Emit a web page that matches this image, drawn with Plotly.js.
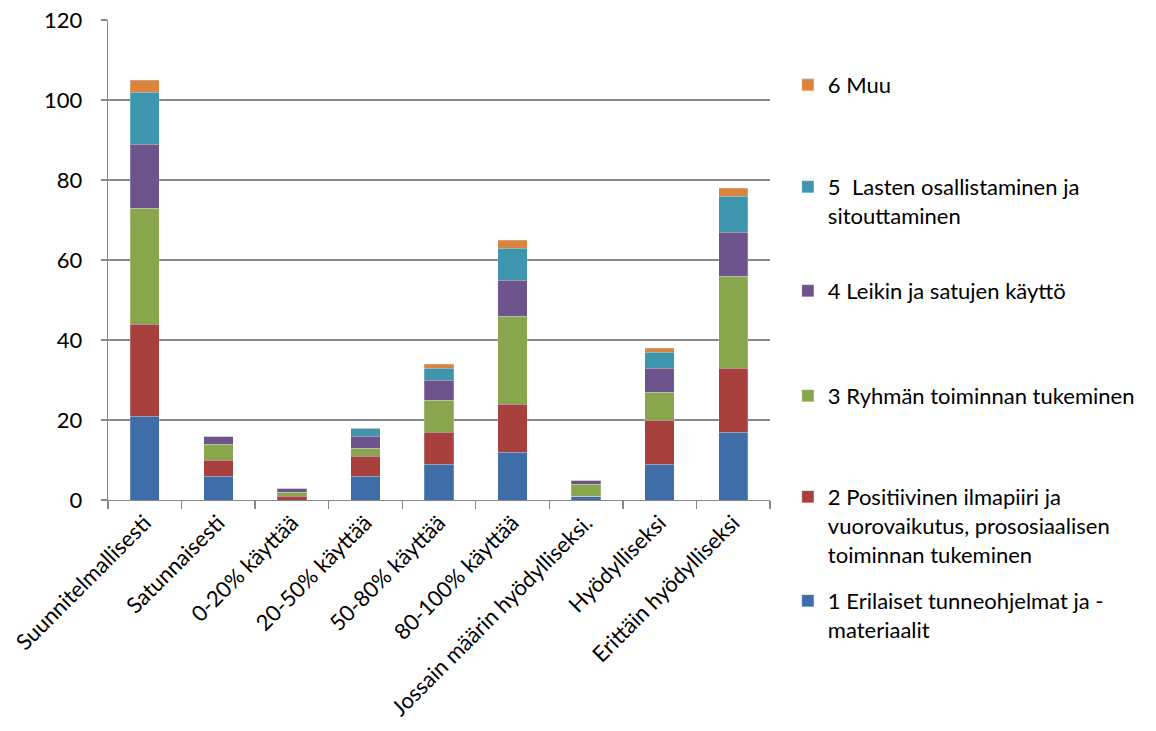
<!DOCTYPE html>
<html>
<head>
<meta charset="utf-8">
<script src="https://cdn.plot.ly/plotly-3.0.1.min.js"></script>
<style>html,body{margin:0;padding:0;background:#fff;}#chart{width:1156px;height:731px;}</style>
</head>
<body>
<div id="chart"></div>
<script>
const categories = ["Suunnitelmallisesti","Satunnaisesti","0-20% käyttää","20-50% käyttää","50-80% käyttää","80-100% käyttää","Jossain määrin hyödylliseksi.","Hyödylliseksi","Erittäin hyödylliseksi"];
const s1 = [21, 6, 0, 6, 9, 12, 1, 9, 17];
const s2 = [23, 4, 1, 5, 8, 12, 0, 11, 16];
const s3 = [29, 4, 1, 2, 8, 22, 3, 7, 23];
const s4 = [16, 2, 1, 3, 5, 9, 1, 6, 11];
const s5 = [13, 0, 0, 2, 3, 8, 0, 4, 9];
const s6 = [3, 0, 0, 0, 1, 2, 0, 1, 2];
const seriesNames = ["1 Erilaiset tunneohjelmat ja -<br>materiaalit",
  "2 Positiivinen ilmapiiri ja<br>vuorovaikutus, prososiaalisen<br>toiminnan tukeminen",
  "3 Ryhmän toiminnan tukeminen",
  "4 Leikin ja satujen käyttö",
  "5  Lasten osallistaminen ja<br>sitouttaminen",
  "6 Muu"];
const seriesValues = [s1, s2, s3, s4, s5, s6];
const colors = ["#3E6DA8", "#A8403D", "#89A54E", "#6E548D", "#3D96AE", "#DB843D"];

const FONT = "Lato, 'Open Sans', sans-serif";
const FS = 22;
const markerY = [601, 497, 396, 291, 187, 85];
const plotTop = 20, plotBottom = 500;

const traces = seriesValues.map((vals, i) => ({
  type: "bar",
  name: seriesNames[i],
  x: categories,
  y: vals,
  marker: {color: colors[i], line: {color: "rgba(255,255,255,0.35)", width: 0.6}},
  legend: i === 0 ? "legend" : "legend" + (i + 1),
  hoverinfo: "x+y+name"
}));

const layout = {
  width: 1156, height: 731,
  margin: {l: 108, r: 386, t: 20, b: 231},
  barmode: "stack",
  bargap: 0.6,
  paper_bgcolor: "#fff",
  plot_bgcolor: "#fff",
  font: {family: FONT, size: FS, color: "#000"},
  xaxis: {
    type: "category",
    tickangle: -45,
    tickson: "boundaries",
    ticks: "outside",
    ticklen: 8,
    tickcolor: "#868686",
    tickwidth: 1.3,
    showline: true,
    linecolor: "#868686",
    linewidth: 1.3,
    showgrid: false,
    tickfont: {family: FONT, size: FS, color: "#000"}
  },
  yaxis: {
    range: [0, 120],
    dtick: 20,
    ticks: "outside",
    ticklen: 6,
    tickcolor: "#868686",
    tickwidth: 1.3,
    showline: true,
    linecolor: "#868686",
    linewidth: 1.3,
    showgrid: true,
    gridcolor: "#868686",
    gridwidth: 1.3,
    zeroline: false,
    ticklabelstandoff: 14,
    tickfont: {family: FONT, size: FS, color: "#000"}
  },
  showlegend: true
};

for (let i = 0; i < 6; i++) {
  const key = i === 0 ? "legend" : "legend" + (i + 1);
  layout[key] = {
    x: 1.027, xanchor: "left",
    y: (plotBottom - (markerY[i] - 21)) / (plotBottom - plotTop),
    yanchor: "top",
    valign: "top",
    bgcolor: "rgba(0,0,0,0)",
    borderwidth: 0,
    font: {family: FONT, size: FS, color: "#000"},
    itemclick: false, itemdoubleclick: false
  };
}

Plotly.newPlot("chart", traces, layout, {displayModeBar: false, staticPlot: true});
</script>
</body>
</html>
